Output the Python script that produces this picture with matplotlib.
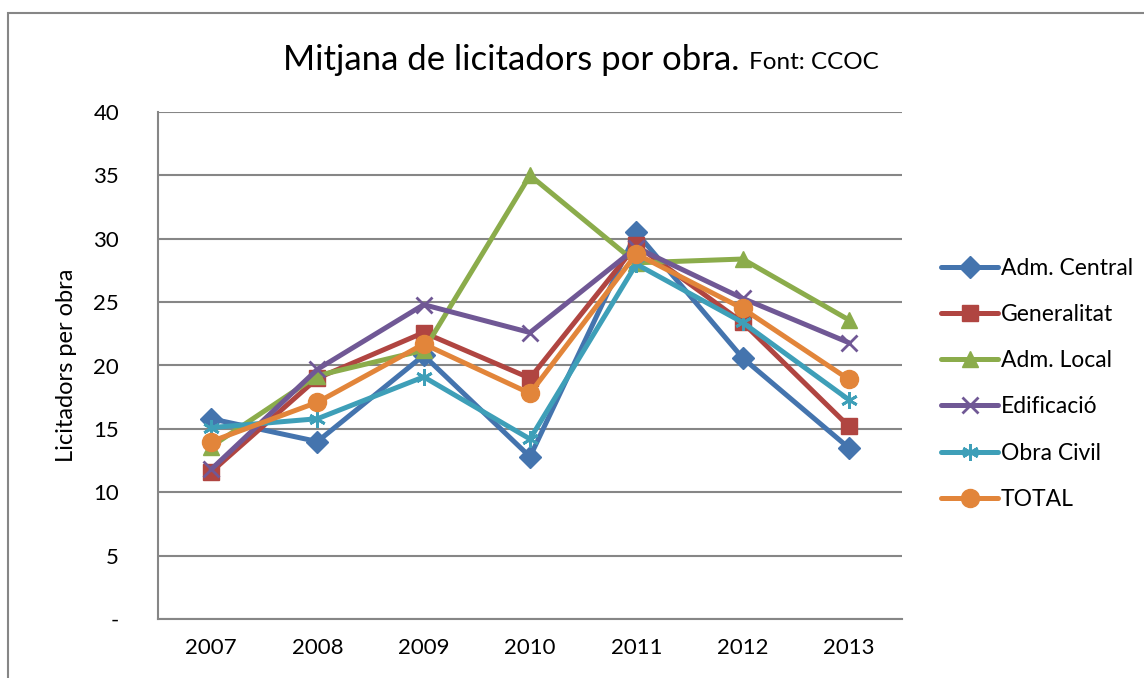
import matplotlib
matplotlib.use("Agg")
import matplotlib.pyplot as plt
from matplotlib.patches import Rectangle

years = ["2007", "2008", "2009", "2010", "2011", "2012", "2013"]
adm_central = [15.8, 14.0, 20.8, 12.8, 30.5, 20.6, 13.5]
generalitat = [11.6, 19.0, 22.6, 19.0, 29.5, 23.4, 15.2]
adm_local = [13.6, 19.2, 21.2, 35.0, 28.1, 28.4, 23.6]
edificacio = [11.8, 19.7, 24.8, 22.6, 29.3, 25.3, 21.8]
obra_civil = [15.1, 15.8, 19.1, 14.2, 28.0, 23.4, 17.3]
total = [14.0, 17.1, 21.7, 17.8, 28.8, 24.5, 18.9]

series = [
    ("Adm. Central", adm_central, "#4474AE", "D", 11),
    ("Generalitat", generalitat, "#B04541", "s", 11),
    ("Adm. Local", adm_local, "#8BAC4B", "^", 12),
    ("Edificació", edificacio, "#705895", "x", 12),
    ("Obra Civil", obra_civil, "#3E9FB8", (6, 2, 0), 12),
    ("TOTAL", total, "#E2853A", "o", 13),
]

plt.rcParams['font.family'] = ['Lato', 'DejaVu Sans']

fig = plt.figure(figsize=(11.44, 6.78), dpi=100)
ax = fig.add_axes([158/1144, 1-619/678, (902-158)/1144, (619-112)/678])

x = list(range(len(years)))
for name, vals, col, mk, ms in series:
    if mk in ("x", (6, 2, 0)):
        ax.plot(x, vals, color=col, lw=3.6, marker=mk, ms=ms, mew=2.0,
                mec=col, label=name, solid_capstyle="round", zorder=3)
    else:
        ax.plot(x, vals, color=col, lw=3.6, marker=mk, ms=ms, mfc=col,
                mec=col, label=name, solid_capstyle="round", zorder=3)

ax.set_xlim(-0.5, 6.5)
ax.set_ylim(0, 40)
ax.set_yticks(range(0, 41, 5))
ax.set_yticklabels(["-"] + [str(v) for v in range(5, 41, 5)])
ax.set_xticks(x)
ax.set_xticklabels(years)
ax.tick_params(axis="both", length=0, labelsize=16, pad=14)
ax.tick_params(axis="y", pad=28)
ax.grid(axis="y", color="#868686", lw=1.5, zorder=0)
ax.set_axisbelow(True)
for s in ["top", "right"]:
    ax.spines[s].set_visible(False)
for s in ["left", "bottom"]:
    ax.spines[s].set_color("#868686")
    ax.spines[s].set_linewidth(1.5)

ax.set_ylabel("Licitadors per obra", fontsize=17, labelpad=12)

title = fig.text(283/1144, 0.912, "Mitjana de licitadors por obra.", fontsize=25,
                 ha="left", va="center")
fig.canvas.draw()
ax.annotate("Font: CCOC", xy=(1, 0.42), xycoords=title, xytext=(7, 0),
            textcoords="offset points", fontsize=17.5, ha="left", va="center")

leg = ax.legend(loc="center left", bbox_to_anchor=(1.04, 0.464), frameon=False,
                fontsize=16.5, handlelength=2.5, handletextpad=0.1,
                labelspacing=1.1, borderaxespad=0)

fig.patches.append(Rectangle((8/1144, -0.1), 1.2, 1-13/678+0.1,
                             transform=fig.transFigure, fill=False,
                             edgecolor="#868686", lw=1.5))

fig.savefig("out.png", dpi=100)
